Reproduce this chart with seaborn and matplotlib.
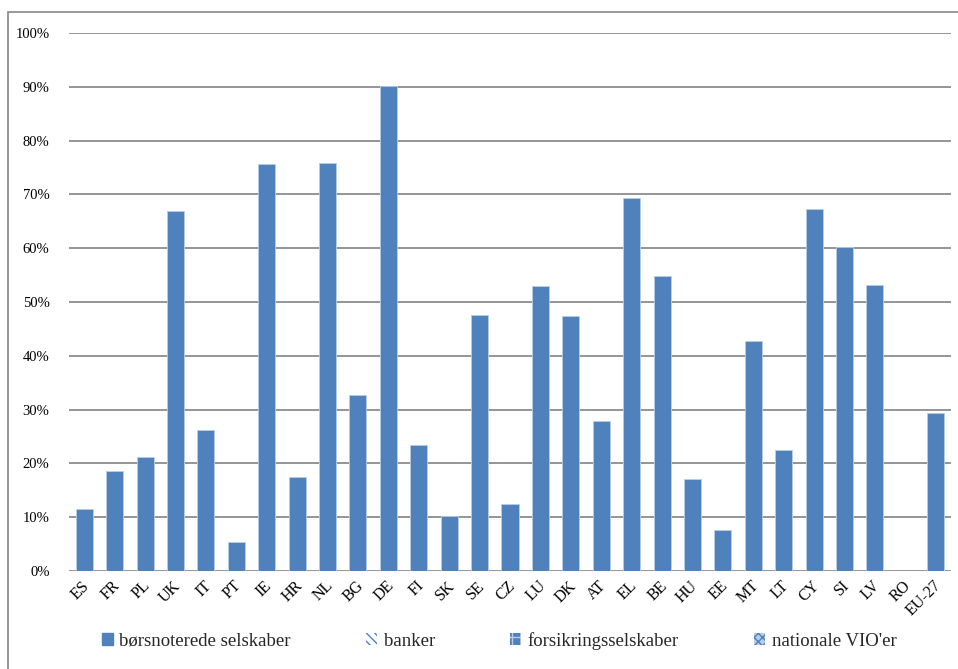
import matplotlib
matplotlib.use("Agg")
import matplotlib.pyplot as plt
from matplotlib.patches import Patch, Rectangle
from matplotlib.ticker import PercentFormatter
from matplotlib.transforms import ScaledTranslation
import seaborn as sns
import pandas as pd

countries = ["ES", "FR", "PL", "UK", "IT", "PT", "IE", "HR", "NL", "BG", "DE", "FI",
             "SK", "SE", "CZ", "LU", "DK", "AT", "EL", "BE", "HU", "EE", "MT", "LT",
             "CY", "SI", "LV", "RO", "EU-27"]
# share of listed companies (børsnoterede selskaber), in percent
listed = [11.6, 18.6, 21.2, 67.0, 26.3, 5.4, 75.6, 17.5, 75.9, 32.8, 90.1, 23.5,
          10.2, 47.5, 12.4, 53.0, 47.4, 27.8, 69.4, 54.8, 17.1, 7.6, 42.8, 22.4,
          67.3, 60.2, 53.1, 0.0, 29.4]
series_names = ["børsnoterede selskaber", "banker", "forsikringsselskaber", "nationale VIO'er"]
y_ticks = [0, 10, 20, 30, 40, 50, 60, 70, 80, 90, 100]

sns.set_theme(style="white")
plt.rcParams["font.family"] = ["Liberation Serif", "DejaVu Serif"]

df = pd.DataFrame({"land": countries, "andel": listed})

fig = plt.figure(figsize=(9.58, 6.69), dpi=100)
ax = fig.add_axes([69 / 958, (669 - 571) / 669, (951 - 69) / 958, (571 - 33) / 669])

sns.barplot(data=df, x="land", y="andel", color="#4F81BD", width=0.56,
            edgecolor="#B9CDE5", linewidth=0.6, saturation=1, ax=ax)

ax.set_ylim(0, 100)
ax.set_xlim(-0.5, len(countries) - 0.5)
ax.set_yticks(y_ticks)
ax.yaxis.set_major_formatter(PercentFormatter(decimals=0))
ax.yaxis.grid(True, color="#8C8C8C", linewidth=1.3)
ax.set_axisbelow(True)
for s in ax.spines.values():
    s.set_visible(False)
ax.set_xlabel("")
ax.set_ylabel("")
ax.tick_params(axis="y", length=0, pad=14, labelsize=10.5, colors="#000000")
ax.tick_params(axis="x", length=0, pad=9, labelsize=11.5, colors="#000000")
shift = ScaledTranslation(3 / 100, 0, fig.dpi_scale_trans)
for lbl in ax.get_xticklabels():
    lbl.set_rotation(45)
    lbl.set_ha("right")
    lbl.set_va("center")
    lbl.set_rotation_mode("anchor")
    lbl.set_transform(lbl.get_transform() + shift)

handles = [
    Patch(facecolor="#4F81BD", edgecolor="#4F81BD", label=series_names[0]),
    Patch(facecolor="white", edgecolor="#4F81BD", hatch="\\\\\\\\", linewidth=0, label=series_names[1]),
    Patch(facecolor="#4F81BD", edgecolor="#B9CDE5", hatch="++", linewidth=0, label=series_names[2]),
    Patch(facecolor="#B9CDE5", edgecolor="#4F81BD", hatch="xxxx", linewidth=0, label=series_names[3]),
]
fig.legend(handles=handles, loc="center", bbox_to_anchor=(499 / 958, 1 - 641 / 669), ncol=4,
           frameon=False, fontsize=13.5, handlelength=0.6, handleheight=0.6,
           handletextpad=0.35, columnspacing=4.0)

# outer chart frame
fig.patches.append(Rectangle((8 / 958, -0.01), 1.0, (669 - 12) / 669 + 0.01,
                             transform=fig.transFigure, fill=False,
                             edgecolor="#868686", linewidth=1.2))

fig.savefig("out.png", dpi=100)
